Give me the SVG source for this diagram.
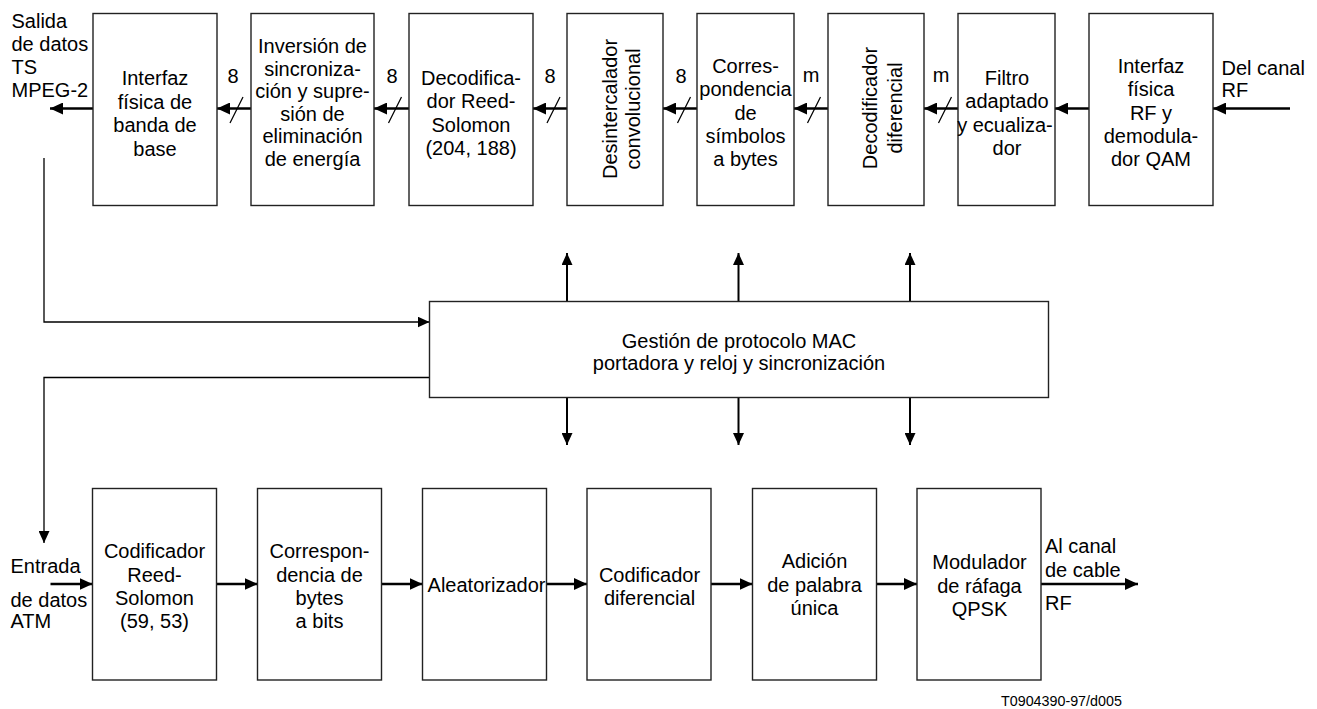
<svg xmlns="http://www.w3.org/2000/svg" width="1317" height="709" viewBox="0 0 1317 709">
  <defs>
    <style>
      .box { fill: #fff; stroke: #222; stroke-width: 1.4; }
      .t { font-family: "Liberation Sans", Arial, sans-serif; font-size: 20px; fill: #000; }
      .c { text-anchor: middle; }
      .main { fill: none; stroke: #000; stroke-width: 2.6; }
      .ctl { fill: none; stroke: #000; stroke-width: 2; }
      .fb { fill: none; stroke: #000; stroke-width: 1.3; }
      .sl { stroke: #000; stroke-width: 1.2; }
      .note { font-family: "Liberation Sans", Arial, sans-serif; font-size: 14.3px; fill: #000; }
    </style>
    <marker id="ah" markerUnits="userSpaceOnUse" markerWidth="13" markerHeight="12" refX="13" refY="6" orient="auto">
      <path d="M0,0 L13,6 L0,12 Z" fill="#000"/>
    </marker>
    <marker id="ahs" markerUnits="userSpaceOnUse" markerWidth="12" markerHeight="11" refX="12" refY="5.5" orient="auto">
      <path d="M0,0 L12,5.5 L0,11 Z" fill="#000"/>
    </marker>
  </defs>
  <rect width="1317" height="709" fill="#fff"/>

  <!-- connectors -->
  <g id="connectors">
    <!-- receive chain, right to left -->
    <line class="main" x1="1290" y1="108.5" x2="1213" y2="108.5" marker-end="url(#ah)"/>
    <line class="main" x1="1089" y1="108.5" x2="1055" y2="108.5" marker-end="url(#ah)"/>
    <line class="main" x1="958" y1="108.5" x2="924" y2="108.5" marker-end="url(#ah)"/>
    <line class="main" x1="828" y1="108.5" x2="794" y2="108.5" marker-end="url(#ah)"/>
    <line class="main" x1="697" y1="108.5" x2="663" y2="108.5" marker-end="url(#ah)"/>
    <line class="main" x1="567" y1="108.5" x2="533" y2="108.5" marker-end="url(#ah)"/>
    <line class="main" x1="409" y1="108.5" x2="374" y2="108.5" marker-end="url(#ah)"/>
    <line class="main" x1="251" y1="108.5" x2="217" y2="108.5" marker-end="url(#ah)"/>
    <line class="main" x1="93" y1="108.5" x2="50" y2="108.5" marker-end="url(#ah)"/>
    <!-- bus-width slashes -->
    <line class="sl" x1="230" y1="123" x2="243" y2="97"/>
    <line class="sl" x1="388.5" y1="123" x2="401.5" y2="97"/>
    <line class="sl" x1="547" y1="123" x2="560" y2="97"/>
    <line class="sl" x1="677.5" y1="123" x2="690.5" y2="97"/>
    <line class="sl" x1="807.5" y1="123" x2="820.5" y2="97"/>
    <line class="sl" x1="938.5" y1="123" x2="951.5" y2="97"/>
    <text class="t c" x="233" y="83">8</text>
    <text class="t c" x="392" y="83">8</text>
    <text class="t c" x="550" y="83">8</text>
    <text class="t c" x="681" y="83">8</text>
    <text class="t c" x="811" y="82">m</text>
    <text class="t c" x="941" y="82">m</text>

    <!-- control outputs of the MAC block -->
    <line class="ctl" x1="567" y1="301.5" x2="567" y2="253" marker-end="url(#ahs)"/>
    <line class="ctl" x1="738.5" y1="301.5" x2="738.5" y2="253" marker-end="url(#ahs)"/>
    <line class="ctl" x1="910" y1="301.5" x2="910" y2="253" marker-end="url(#ahs)"/>
    <line class="ctl" x1="567" y1="397.5" x2="567" y2="445" marker-end="url(#ahs)"/>
    <line class="ctl" x1="738.5" y1="397.5" x2="738.5" y2="445" marker-end="url(#ahs)"/>
    <line class="ctl" x1="910" y1="397.5" x2="910" y2="445" marker-end="url(#ahs)"/>

    <!-- data paths to/from the MAC block -->
    <polyline class="fb" points="44,158 44,322 429.5,322" marker-end="url(#ahs)"/>
    <polyline class="fb" points="429.5,377.5 44,377.5 44,543" marker-end="url(#ahs)"/>

    <!-- transmit chain, left to right -->
    <line class="main" x1="50.5" y1="584" x2="92.5" y2="584" marker-end="url(#ah)"/>
    <line class="main" x1="216.5" y1="584" x2="257.5" y2="584" marker-end="url(#ah)"/>
    <line class="main" x1="381.5" y1="584" x2="422.5" y2="584" marker-end="url(#ah)"/>
    <line class="main" x1="546.5" y1="584" x2="587" y2="584" marker-end="url(#ah)"/>
    <line class="main" x1="711" y1="584" x2="752.5" y2="584" marker-end="url(#ah)"/>
    <line class="main" x1="876.5" y1="584" x2="917" y2="584" marker-end="url(#ah)"/>
    <line class="main" x1="1041" y1="584" x2="1138" y2="584" marker-end="url(#ah)"/>
  </g>

  <!-- external port labels -->
  <g id="port-out-ts">
    <text class="t" x="11.5" y="28.3">Salida</text>
    <text class="t" x="11.5" y="51.1">de datos</text>
    <text class="t" x="11.5" y="73.9">TS</text>
    <text class="t" x="11.5" y="96.7">MPEG-2</text>
  </g>
  <g id="port-in-rf">
    <text class="t" x="1221.5" y="75">Del canal</text>
    <text class="t" x="1221.5" y="97">RF</text>
  </g>
  <g id="port-in-atm">
    <text class="t" x="10.5" y="573">Entrada</text>
    <text class="t" x="10.5" y="606.7">de datos</text>
    <text class="t" x="10.5" y="628.3">ATM</text>
  </g>
  <g id="port-out-cable">
    <text class="t" x="1045" y="553">Al canal</text>
    <text class="t" x="1045" y="576.7">de cable</text>
    <text class="t" x="1045" y="610">RF</text>
  </g>

  <!-- receive chain blocks -->
  <g id="baseband-if">
    <rect class="box" x="93" y="13.5" width="124" height="192"/>
    <text class="t c" x="155" y="85">Interfaz</text>
    <text class="t c" x="155" y="108.5">física de</text>
    <text class="t c" x="155" y="132">banda de</text>
    <text class="t c" x="155" y="155.5">base</text>
  </g>
  <g id="sync-inversion">
    <rect class="box" x="251" y="13.5" width="123" height="192"/>
    <text class="t c" x="312.5" y="53">Inversión de</text>
    <text class="t c" x="312.5" y="75.5">sincroniza-</text>
    <text class="t c" x="312.5" y="98">ción y supre-</text>
    <text class="t c" x="312.5" y="120.5">sión de</text>
    <text class="t c" x="312.5" y="143">eliminación</text>
    <text class="t c" x="312.5" y="165.5">de energía</text>
  </g>
  <g id="rs-decoder">
    <rect class="box" x="409" y="13.5" width="124" height="192"/>
    <text class="t c" x="471" y="85">Decodifica-</text>
    <text class="t c" x="471" y="108.3">dor Reed-</text>
    <text class="t c" x="471" y="131.6">Solomon</text>
    <text class="t c" x="471" y="155">(204, 188)</text>
  </g>
  <g id="deinterleaver">
    <rect class="box" x="567" y="13.5" width="96" height="192"/>
    <text class="t c" transform="translate(616.5,109) rotate(-90)">Desintercalador</text>
    <text class="t c" transform="translate(640,109) rotate(-90)">convolucional</text>
  </g>
  <g id="symbol-to-byte">
    <rect class="box" x="697" y="13.5" width="97" height="192"/>
    <text class="t c" x="745.5" y="73">Corres-</text>
    <text class="t c" x="745.5" y="96.3">pondencia</text>
    <text class="t c" x="745.5" y="119.6">de</text>
    <text class="t c" x="745.5" y="142.9">símbolos</text>
    <text class="t c" x="745.5" y="166.2">a bytes</text>
  </g>
  <g id="diff-decoder">
    <rect class="box" x="828" y="13.5" width="96" height="192"/>
    <text class="t c" transform="translate(877,108) rotate(-90)">Decodificador</text>
    <text class="t c" transform="translate(901.5,108) rotate(-90)">diferencial</text>
  </g>
  <g id="matched-filter">
    <rect class="box" x="958" y="13.5" width="97" height="192"/>
    <text class="t c" x="1007" y="84.5">Filtro</text>
    <text class="t c" x="1007" y="108">adaptado</text>
    <text class="t c" x="1005" y="131.5">y ecualiza-</text>
    <text class="t c" x="1007" y="155">dor</text>
  </g>
  <g id="rf-qam">
    <rect class="box" x="1089" y="13.5" width="124" height="192"/>
    <text class="t c" x="1151" y="73">Interfaz</text>
    <text class="t c" x="1151" y="96.3">física</text>
    <text class="t c" x="1151" y="119.6">RF y</text>
    <text class="t c" x="1151" y="142.9">demodula-</text>
    <text class="t c" x="1151" y="166.2">dor QAM</text>
  </g>

  <!-- MAC / timing control -->
  <g id="mac-control">
    <rect class="box" x="429.5" y="301.5" width="619" height="96"/>
    <text class="t c" x="739" y="347.5">Gestión de protocolo MAC</text>
    <text class="t c" x="739" y="370">portadora y reloj y sincronización</text>
  </g>

  <!-- transmit chain blocks -->
  <g id="rs-encoder">
    <rect class="box" x="92.5" y="488.5" width="124" height="191.5"/>
    <text class="t c" x="154.5" y="558.3">Codificador</text>
    <text class="t c" x="154.5" y="581.7">Reed-</text>
    <text class="t c" x="154.5" y="605">Solomon</text>
    <text class="t c" x="154.5" y="628.3">(59, 53)</text>
  </g>
  <g id="byte-to-bit">
    <rect class="box" x="257.5" y="488.5" width="124" height="191.5"/>
    <text class="t c" x="319.5" y="558.3">Correspon-</text>
    <text class="t c" x="319.5" y="581.7">dencia de</text>
    <text class="t c" x="319.5" y="605">bytes</text>
    <text class="t c" x="319.5" y="628.3">a bits</text>
  </g>
  <g id="randomizer">
    <rect class="box" x="422.5" y="488.5" width="124" height="191.5"/>
    <text class="t c" x="486.5" y="591.5">Aleatorizador</text>
  </g>
  <g id="diff-encoder">
    <rect class="box" x="587" y="488.5" width="124" height="191.5"/>
    <text class="t c" x="649.5" y="581.7">Codificador</text>
    <text class="t c" x="649.5" y="605">diferencial</text>
  </g>
  <g id="unique-word">
    <rect class="box" x="752.5" y="488.5" width="124" height="191.5"/>
    <text class="t c" x="814.5" y="568">Adición</text>
    <text class="t c" x="814.5" y="591.5">de palabra</text>
    <text class="t c" x="814.5" y="615">única</text>
  </g>
  <g id="qpsk-mod">
    <rect class="box" x="917" y="488.5" width="124" height="191.5"/>
    <text class="t c" x="979.5" y="569">Modulador</text>
    <text class="t c" x="979.5" y="592.5">de ráfaga</text>
    <text class="t c" x="979.5" y="616">QPSK</text>
  </g>

  <text class="note" x="1001" y="706">T0904390-97/d005</text>
</svg>
